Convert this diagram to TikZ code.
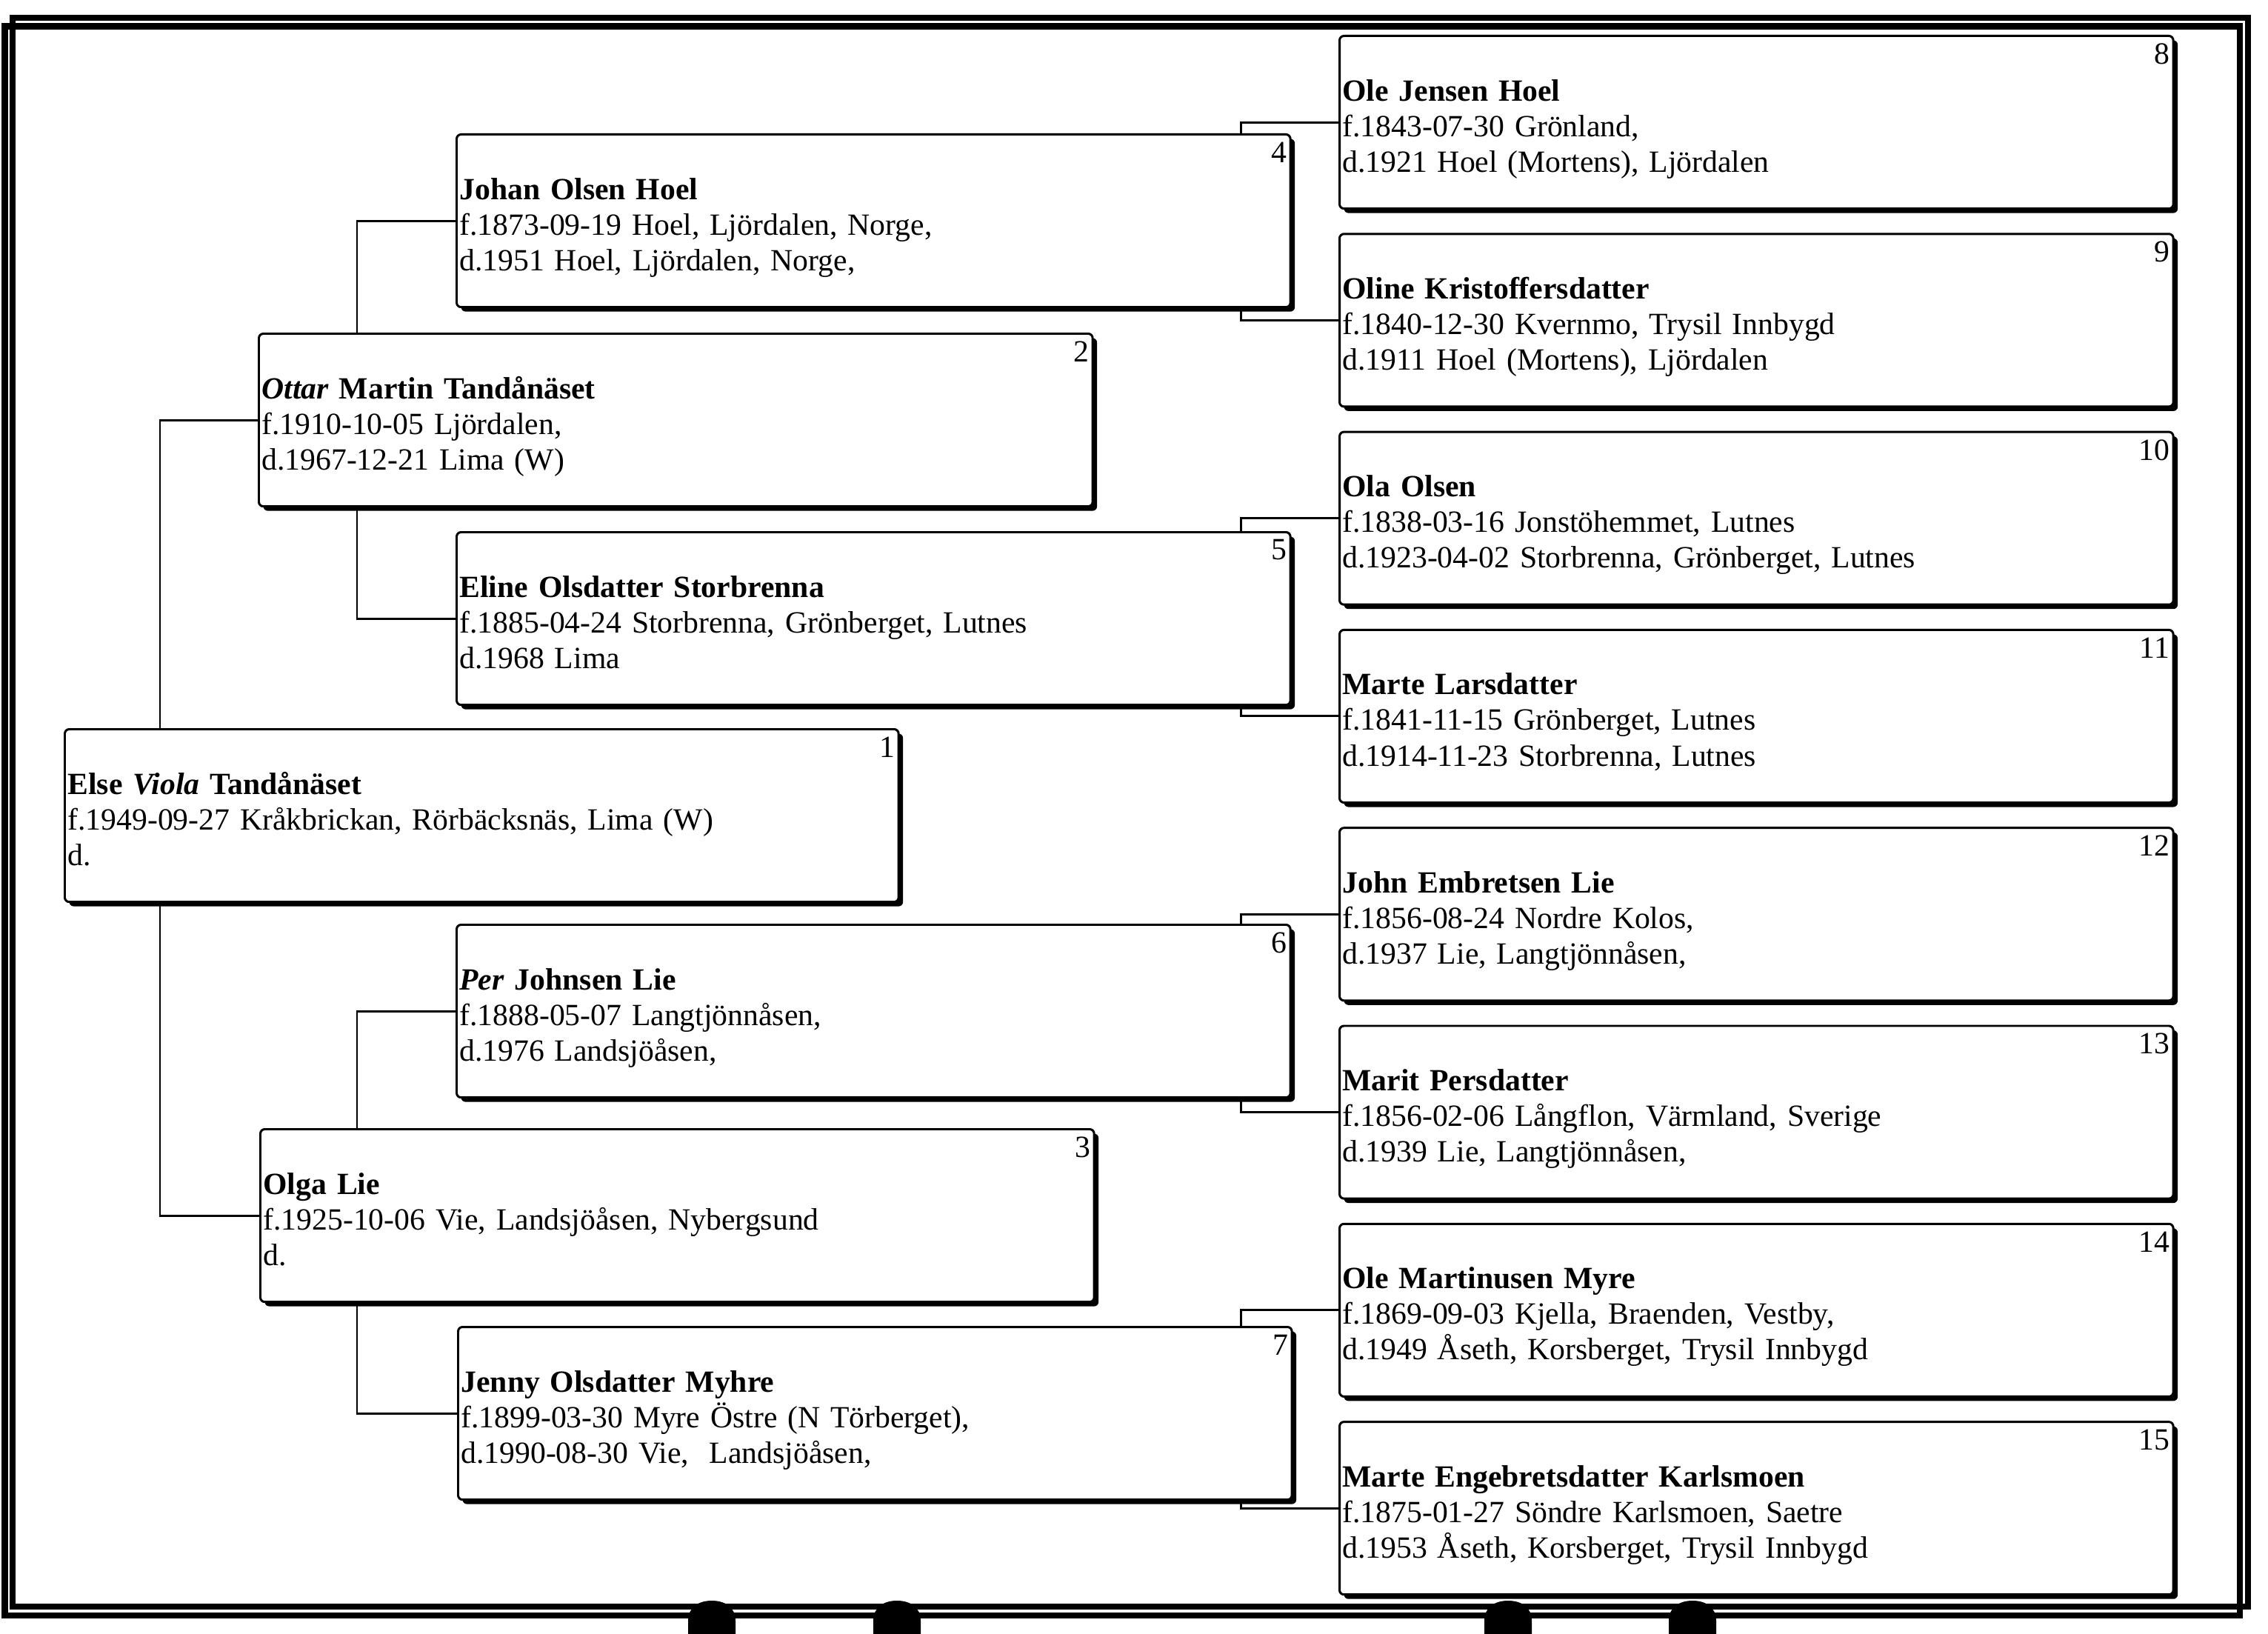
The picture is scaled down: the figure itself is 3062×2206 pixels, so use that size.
\documentclass[tikz,border=0pt]{standalone}
\usepackage{fontspec}
\setmainfont{Liberation Serif}
\usetikzlibrary{shadows}
\pgfdeclarelayer{back}
\pgfdeclarelayer{bg}
\pgfsetlayers{back,bg,main}
\begin{document}
\begin{tikzpicture}[x=0.01cm,y=-0.01cm,
  person/.style={draw=black, line width=0.85pt, fill=white, rounded corners=0.06cm,
    anchor=north west, minimum width=11.25cm, minimum height=2.33cm,
    inner xsep=0.04cm, inner ysep=0pt, text width=11.17cm, align=left,
    text height=0.30cm, text depth=0.88cm,
    font=\fontsize{11.85pt}{13.66pt}\selectfont,
    drop shadow={fill=black, opacity=1, shadow xshift=0.06cm, shadow yshift=-0.06cm}},
  num/.style={anchor=north east, inner sep=0pt, font=\fontsize{11.85pt}{13pt}\selectfont},
  link/.style={draw=black, line width=0.85pt},
  frame/.style={draw=black, line width=2.42pt},
]
\useasboundingbox (0,0) rectangle (3062,2206);
\begin{pgfonlayer}{back}
\fill[white] (0,0) rectangle (3062,2206);
\end{pgfonlayer}

% page frames
\draw[frame] (17,24) rectangle (3035,2169);
\draw[frame] (6.7,35.5) rectangle (3024,2181);

% bottom tabs
\foreach \cx in {961,1211,2036,2285}{
  \fill[black] (\cx-32,2206) -- (\cx-32,2188) .. controls (\cx-32,2170) and (\cx-18,2161) .. (\cx,2161)
     .. controls (\cx+18,2161) and (\cx+32,2170) .. (\cx+32,2188) -- (\cx+32,2206) -- cycle;
}

% generation 1
\node[person] (b1) at (86,983) {\textbf{Else \textit{Viola} Tandånäset}\\f.1949-09-27 Kråkbrickan, Rörbäcksnäs, Lima (W)\\d.};
% generation 2
\node[person] (b2) at (348,449) {\textbf{\textit{Ottar} Martin Tandånäset}\\f.1910-10-05 Ljördalen,\\d.1967-12-21 Lima (W)};
\node[person] (b3) at (350,1523) {\textbf{Olga Lie}\\f.1925-10-06 Vie, Landsjöåsen, Nybergsund\\d.};
% generation 3
\node[person] (b4) at (615,180) {\textbf{Johan Olsen Hoel}\\f.1873-09-19 Hoel, Ljördalen, Norge,\\d.1951 Hoel, Ljördalen, Norge,};
\node[person] (b5) at (615,717) {\textbf{Eline Olsdatter Storbrenna}\\f.1885-04-24 Storbrenna, Grönberget, Lutnes\\d.1968 Lima};
\node[person] (b6) at (615,1247) {\textbf{\textit{Per} Johnsen Lie}\\f.1888-05-07 Langtjönnåsen,\\d.1976 Landsjöåsen,};
\node[person] (b7) at (617,1790) {\textbf{Jenny Olsdatter Myhre}\\f.1899-03-30 Myre Östre (N Törberget),\\d.1990-08-30 Vie,\ \ Landsjöåsen,};
% generation 4
\node[person] (b8) at (1807,47) {\textbf{Ole Jensen Hoel}\\f.1843-07-30 Grönland,\\d.1921 Hoel (Mortens), Ljördalen};
\node[person] (b9) at (1807,314.3) {\textbf{Oline Kristoffersdatter}\\f.1840-12-30 Kvernmo, Trysil Innbygd\\d.1911 Hoel (Mortens), Ljördalen};
\node[person] (b10) at (1807,581.6) {\textbf{Ola Olsen}\\f.1838-03-16 Jonstöhemmet, Lutnes\\d.1923-04-02 Storbrenna, Grönberget, Lutnes};
\node[person] (b11) at (1807,848.9) {\textbf{Marte Larsdatter}\\f.1841-11-15 Grönberget, Lutnes\\d.1914-11-23 Storbrenna, Lutnes};
\node[person] (b12) at (1807,1116.2) {\textbf{John Embretsen Lie}\\f.1856-08-24 Nordre Kolos,\\d.1937 Lie, Langtjönnåsen,};
\node[person] (b13) at (1807,1383.5) {\textbf{Marit Persdatter}\\f.1856-02-06 Långflon, Värmland, Sverige\\d.1939 Lie, Langtjönnåsen,};
\node[person] (b14) at (1807,1650.8) {\textbf{Ole Martinusen Myre}\\f.1869-09-03 Kjella, Braenden, Vestby,\\d.1949 Åseth, Korsberget, Trysil Innbygd};
\node[person] (b15) at (1807,1918.1) {\textbf{Marte Engebretsdatter Karlsmoen}\\f.1875-01-27 Söndre Karlsmoen, Saetre\\d.1953 Åseth, Korsberget, Trysil Innbygd};

% numbers
\foreach \i in {1,...,15}{
  \node[num] (n\i) at ([xshift=-0.06cm,yshift=-0.11cm]b\i.north east) {\i};
}

% connectors
\coordinate (c1) at (216,0);
\coordinate (c2) at (482,0);
\coordinate (c3) at (1675,0);
\begin{pgfonlayer}{bg}
\draw[link] (b2.west) -- (b2.west -| c1) -- (b3.west -| c1) -- (b3.west);
\draw[link] (b4.west) -- (b4.west -| c2) -- (b5.west -| c2) -- (b5.west);
\draw[link] (b6.west) -- (b6.west -| c2) -- (b7.west -| c2) -- (b7.west);
\draw[link] (b8.west) -- (b8.west -| c3) -- (b9.west -| c3) -- (b9.west);
\draw[link] (b10.west) -- (b10.west -| c3) -- (b11.west -| c3) -- (b11.west);
\draw[link] (b12.west) -- (b12.west -| c3) -- (b13.west -| c3) -- (b13.west);
\draw[link] (b14.west) -- (b14.west -| c3) -- (b15.west -| c3) -- (b15.west);
\end{pgfonlayer}
\end{tikzpicture}
\end{document}
